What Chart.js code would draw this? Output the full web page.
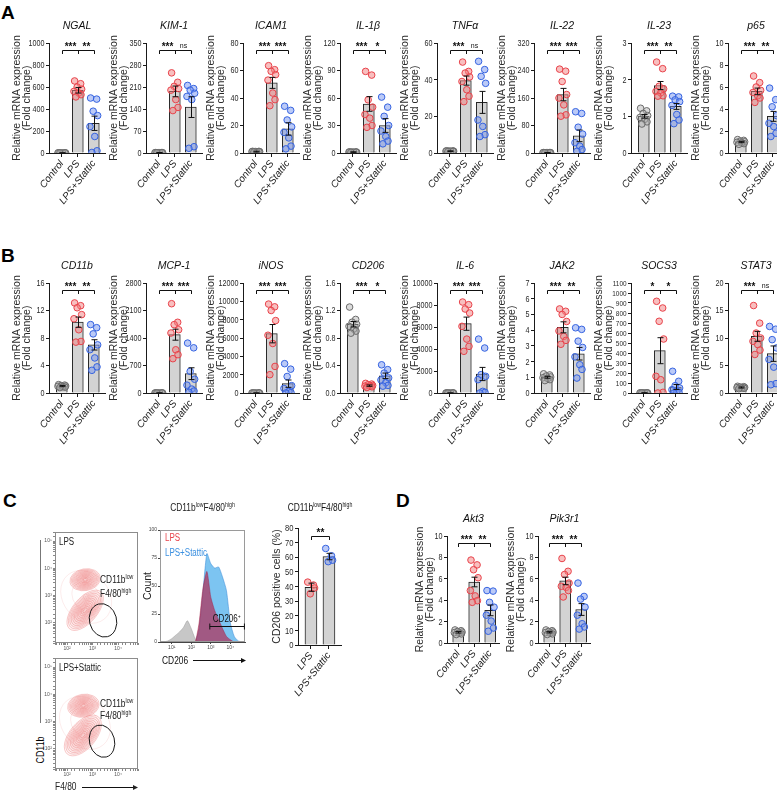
<!DOCTYPE html>
<html>
<head>
<meta charset="utf-8">
<script src="https://cdn.jsdelivr.net/npm/chart.js@4.4.1/dist/chart.umd.min.js"></script>
<style>
body { margin: 0; background: #fff; width: 777px; height: 792px; position: relative; overflow: hidden; font-family: 'Liberation Sans', Arial, sans-serif; }
canvas { position: absolute; }
.lbl { position: absolute; font-weight: bold; font-size: 19px; line-height: 1; }
</style>
</head>
<body>
<div class="lbl" style="left:1px;top:3px">A</div>
<div class="lbl" style="left:1px;top:246px">B</div>
<div class="lbl" style="left:3px;top:491px">C</div>
<div class="lbl" style="left:396px;top:491px">D</div>
<div style="position:absolute;left:40px;top:540px;width:1px;height:183px;background:#777"></div>
<div style="position:absolute;left:20px;top:744px;width:40px;text-align:center;font:10.5px 'Liberation Sans',Arial;transform:rotate(-90deg) scaleX(0.85)">CD11b</div>
<script>
// groups + dot spread
const groups = ['Control', 'LPS', 'LPS+Stattic'];
const jit8 = [-0.2, 0.18, -0.04, 0.24, -0.24, 0.06, 0.2, -0.12];
const jit4 = [-0.18, 0.14, -0.04, 0.2];
const ctrlPts = [1.22, 1.15, 1.08, 1.02, 0.97, 0.92, 0.85, 0.79];

// panel A
const genesA = ['NGAL', 'KIM-1', 'ICAM1', 'IL-1β', 'TNFα', 'IL-22', 'IL-23', 'p65'];
const maxA = [1000, 350, 80, 120, 60, 320, 3, 10];
const stepA = [200, 70, 20, 30, 20, 80, 1, 2];
const meanA = [[1, 570, 270], [1, 196, 146], [1, 51, 17.5], [1, 53.5, 30], [1, 39.5, 27.6], [1, 170, 50], [1, 1.84, 1.27], [1, 5.6, 3.33]];
const semA = [[0.5, 25, 65], [0.5, 17, 33], [0.3, 4, 4.5], [0.3, 8, 7.5], [0.2, 2.5, 6], [0.5, 18, 17], [0.05, 0.11, 0.08], [0.06, 0.3, 0.45]];
const lpsA = [
  [655, 630, 600, 580, 560, 545, 530, 510],
  [255, 225, 212, 205, 200, 170, 145, 135],
  [63.5, 60.6, 59.4, 57, 53, 43.6, 38.8, 34.4],
  [89, 85, 58, 50, 42, 38, 30, 28],
  [49.6, 44.5, 43.6, 41.5, 39, 34.5, 31, 28],
  [244, 238, 208, 170, 160, 140, 111, 107],
  [2.48, 2.3, 1.82, 1.75, 1.68, 1.64, 1.56, 1.55],
  [7.0, 6.4, 6.0, 5.7, 5.5, 5.2, 5.0, 4.6]
];
const staA = [
  [500, 490, 380, 340, 240, 150, 20, 5],
  [215, 205, 200, 190, 180, 170, 20, 15],
  [34, 31, 24, 19, 15, 11, 5, 3],
  [61, 50, 40, 30, 24, 18, 13, 10],
  [50, 45.5, 41.8, 38, 18, 14.5, 10, 9],
  [120, 115, 75, 55, 30, 20, 10, 5],
  [1.55, 1.53, 1.45, 1.4, 1.3, 1.05, 0.9, 0.8],
  [5.9, 4.85, 4.2, 3.4, 2.7, 2.4, 1.8, 1.5]
];
const sigA = [['***', '**'], ['***', 'ns'], ['***', '***'], ['***', '*'], ['***', 'ns'], ['***', '***'], ['***', '**'], ['***', '**']];

// panel B
const genesB = ['CD11b', 'MCP-1', 'iNOS', 'CD206', 'IL-6', 'JAK2', 'SOCS3', 'STAT3'];
const maxB = [16, 2800, 12000, 1.6, 10000, 7, 1100, 20];
const stepB = [4, 700, 2000, 0.4, 2000, 1, 100, 5];
const decB = [0, 0, 0, 1, 0, 0, 0, 0];
const meanB = [[1, 10.3, 7.0], [1, 1484, 492], [1, 6470, 1018], [1.0, 0.107, 0.25], [1, 6300, 1727], [1.0, 4.18, 2.5], [1, 423, 60], [1, 10.3, 7.15]];
const semB = [[0.08, 0.75, 0.75], [1, 140, 150], [1, 1000, 400], [0.04, 0.01, 0.04], [1, 600, 600], [0.06, 0.35, 0.4], [1, 130, 25], [0.1, 0.9, 1.4]];
const cd206Ctrl = [1.25, 1.07, 1.03, 1.0, 0.97, 0.93, 0.9, 0.87];
const lpsB = [
  [13.1, 12.7, 12.4, 11.4, 10.8, 9.2, 7.5, 7.4],
  [2273, 1800, 1740, 1611, 1527, 1100, 975, 874],
  [9700, 9400, 9000, 7900, 6300, 5400, 2900, 2000],
  [0.14, 0.13, 0.12, 0.11, 0.1, 0.1, 0.09, 0.08],
  [8270, 8030, 7636, 7270, 6060, 4900, 4240, 3790],
  [5.35, 5.2, 5.0, 4.55, 3.95, 3.6, 3.35, 3.1],
  [917, 850, 717, 540, 167, 133, 7, 0],
  [15.9, 12.7, 10.9, 10, 9.4, 8.8, 7.8, 7.0]
];
const staB = [
  [9.95, 9.5, 8.6, 7.0, 6.3, 5.1, 3.8, 3.3],
  [1270, 1150, 550, 350, 200, 100, 50, 20],
  [3200, 2600, 1800, 800, 500, 150, 50, 0],
  [0.41, 0.34, 0.29, 0.22, 0.19, 0.15, 0.11, 0.1],
  [4900, 4090, 1670, 1515, 1212, 150, 60, 0],
  [4.15, 4.05, 3.3, 2.9, 2.3, 1.8, 1.5, 0.95],
  [217, 117, 73, 50, 33, 17, 7, 0],
  [12.1, 11.6, 9.7, 8.2, 6.1, 4.7, 1.7, 1.5]
];
const sigB = [['***', '**'], ['***', '***'], ['***', '***'], ['***', '*'], ['***', '***'], ['***', '**'], ['*', '*'], ['***', 'ns']];

// panel D
const genesD = ['Akt3', 'Pik3r1'];
const meanD = [[1, 5.7, 3.05], [1, 5.8, 3.13]];
const semD = [[0.07, 0.45, 0.5], [0.06, 0.35, 0.55]];
const lpsD = [[7.75, 7.3, 6.85, 6.1, 4.9, 4.4, 3.95, 3.8], [7.9, 6.7, 6.4, 5.6, 5.3, 5.2, 4.9, 4.3]];
const staD = [[4.9, 4.85, 3.8, 3.35, 2.6, 2.05, 1.4, 1.1], [5.6, 4.35, 4.1, 3.35, 2.6, 1.8, 1.5, 1.3]];
const sigD = [['***', '**'], ['***', '**']];

// panel C: CD206 positive cells
const cd206Groups = ['LPS', 'LPS+Stattic'];
const cd206Mean = [39.5, 60.5];
const cd206Sem = [2.8, 2.2];
const cd206Lps = [43, 41, 35, 39];
const cd206Sta = [66, 61, 57, 58];

// panel C: histogram (log10 CD206 vs % of max)
const histX = [0.6, 0.8, 1.0, 1.2, 1.4, 1.6, 1.8, 2.0, 2.2, 2.4, 2.6, 2.8, 3.0, 3.2, 3.4, 3.6, 3.8, 4.0, 4.2, 4.4, 4.6];
const histGrey = [0, 1, 3, 6, 9, 13, 19, 12, 3, 0, 0, 0, 0, 0, 0, 0, 0, 0, 0, 0, 0];
const histRed = [0, 0, 0, 0, 0, 0, 0, 0, 0, 17, 48, 63, 40, 28, 20, 12, 5, 2, 0, 0, 0];
const histBlue = [0, 0, 0, 0, 0, 0, 0, 0, 0, 12, 45, 79, 70, 66, 67, 58, 46, 17, 5, 1, 0];
const histTicks = [0, 25, 50, 75, 100];
const gateRange = [2.95, 4.72];
const gateLevel = 14;

// panel C: contour populations, log10 [F4/80, CD11b, spreadX, spreadY, tilt]
const lpsPops = [[2.75, 2.95, 0.9, 1.05, 40], [2.71, 3.58, 0.6, 0.4, 10], [2.71, 2.46, 0.95, 0.45, 50]];
const staPops = [[2.7, 2.95, 0.9, 1.05, 40], [2.64, 3.58, 0.62, 0.42, 10], [2.62, 2.49, 0.95, 0.48, 50]];
const lpsGate = [3.41, 2.09, 0.53, 0.62, 15];
const staGate = [3.37, 2.28, 0.49, 0.6, 15];

const FONT = "'Liberation Sans', Arial, sans-serif";
const NARROW = 0.8;
Chart.defaults.font.family = FONT;
Chart.defaults.color = '#222';

const dotLine = {c: '#6b6b6b', l: '#e8434b', s: '#3563e0'};
const dotFill = {c: 'rgba(175,175,175,0.45)', l: 'rgba(242,128,128,0.5)', s: 'rgba(120,150,240,0.5)'};
const sup = ['⁰', '¹', '²', '³', '⁴', '⁵'];
const yTitle = ['Relative mRNA expression', '(Fold change)'];

function mk(left, top, w, h) {
  const cv = document.createElement('canvas');
  cv.width = w; cv.height = h;
  cv.style.left = left + 'px'; cv.style.top = top + 'px';
  document.body.appendChild(cv);
  return cv;
}

// condensed text with optional superscript parts
function supText(ctx, parts, x, y, size, align) {
  const fnt = s => (s ? size * 0.62 : size) + 'px ' + FONT;
  let total = 0;
  parts.forEach(([t, s]) => { ctx.font = fnt(s); total += ctx.measureText(t).width; });
  const x0 = align === 'center' ? x - total * NARROW / 2 : align === 'right' ? x - total * NARROW : x;
  ctx.save();
  ctx.translate(x0, y);
  ctx.scale(NARROW, 1);
  ctx.textAlign = 'left';
  let cx = 0;
  parts.forEach(([t, s]) => {
    ctx.font = fnt(s);
    ctx.fillText(t, cx, s ? -size * 0.38 : 0);
    cx += ctx.measureText(t).width;
  });
  ctx.restore();
}

function decor(o) {
  return {
    id: 'decor',
    afterDatasetsDraw(chart) {
      const {ctx, chartArea: a, scales: {x, y}} = chart;
      ctx.save();
      // y tick labels, condensed
      ctx.fillStyle = '#2a2a2a';
      ctx.textBaseline = 'middle';
      y.ticks.forEach(t => {
        supText(ctx, [[t.value.toFixed(o.dec), 0]], a.left - 4.5, y.getPixelForValue(t.value) + 0.5, o.tickSize, 'right');
      });
      ctx.textBaseline = 'alphabetic';
      ctx.strokeStyle = '#111';
      ctx.lineWidth = 1;
      // error bars
      o.mean.forEach((m, i) => {
        const px = Math.round(x.getPixelForValue(i)) + 0.5;
        const y1 = y.getPixelForValue(m + o.sem[i]);
        const y0 = y.getPixelForValue(Math.max(m - o.sem[i], 0));
        ctx.beginPath();
        ctx.moveTo(px, y0); ctx.lineTo(px, y1);
        ctx.moveTo(px - 3, y1); ctx.lineTo(px + 3, y1);
        ctx.moveTo(px - 3, y0); ctx.lineTo(px + 3, y0);
        ctx.stroke();
      });
      // significance bracket
      const by = Math.round(a.top + o.brY) + 0.5;
      const xs = o.mean.map((m, i) => Math.round(x.getPixelForValue(i)) + 0.5);
      ctx.beginPath();
      ctx.moveTo(xs[0], by); ctx.lineTo(xs[xs.length - 1], by);
      xs.forEach(px => { ctx.moveTo(px, by); ctx.lineTo(px, by + 3.5); });
      ctx.stroke();
      ctx.fillStyle = '#111';
      ctx.textAlign = 'center';
      o.sig.forEach((s, i) => {
        ctx.font = s === 'ns' ? '7px ' + FONT : 'bold 10px ' + FONT;
        ctx.fillText(s, (xs[i] + xs[i + 1]) / 2, s === 'ns' ? by - 3 : by - 1);
      });
      // title
      const cx = (a.left + a.right) / 2;
      if (o.titleParts) {
        supText(ctx, o.titleParts, cx, a.top - 17, 10.5, 'center');
      } else {
        ctx.font = 'italic 10.5px ' + FONT;
        ctx.textAlign = 'center';
        ctx.fillText(o.title, cx, a.top - 14);
      }
      ctx.restore();
    }
  };
}

function barChart(left, top, o) {
  const plotW = (o.xMax - o.xMin) * o.unit;
  const w = Math.ceil(o.padL + o.yW + plotW + 5 + (o.extraW || 0));
  const padR = w - o.padL - o.yW - plotW;
  const cv = mk(left, top, w, 43 + o.plotH + o.xH);
  const ds = [{
    type: 'bar', data: o.mean.map((v, i) => ({x: i, y: v})),
    backgroundColor: '#d3d3d3', borderColor: '#262626', borderWidth: 1,
    barThickness: o.barW, order: 3
  }];
  o.pts.forEach((arr, g) => ds.push({
    type: 'scatter', data: arr.map((v, j) => ({x: g + o.jit[j], y: v})),
    pointRadius: 3.3, pointBackgroundColor: dotFill[o.col[g]], pointBorderColor: dotLine[o.col[g]],
    pointBorderWidth: 1, order: 1
  }));
  new Chart(cv, {
    type: 'bar',
    data: {datasets: ds},
    options: {
      responsive: false, animation: false, events: [],
      layout: {padding: {left: o.padL, top: 43, right: padR, bottom: 0}},
      plugins: {legend: {display: false}, tooltip: {enabled: false}},
      scales: {
        x: {
          type: 'linear', min: o.xMin, max: o.xMax, offset: false,
          afterBuildTicks: s => { s.ticks = o.labels.map((l, i) => ({value: i})); },
          afterFit: s => { s.height = o.xH; },
          ticks: {autoSkip: false, minRotation: 52, maxRotation: 52, padding: 1, color: '#1a1a1a',
                  font: {size: 10, style: 'italic'}, callback: v => o.labels[v]},
          grid: {offset: false, drawOnChartArea: false, tickLength: 4, color: '#1a1a1a'},
          border: {color: '#1a1a1a', width: 1}
        },
        y: {
          min: 0, max: o.max,
          afterFit: s => { s.width = o.yW; },
          ticks: {stepSize: o.step, autoSkip: false, display: false},
          grid: {drawOnChartArea: false, tickLength: 3, color: '#1a1a1a'},
          border: {color: '#1a1a1a', width: 1},
          title: {display: true, text: o.yTitle, color: '#2a2a2a', padding: {top: o.tPad, bottom: 0},
                  font: {size: 10.5, lineHeight: 0.95}}
        }
      }
    },
    plugins: [decor(o)]
  });
}

const geneBase = {labels: groups, col: ['c', 'l', 's'], jit: jit8, xMin: -0.8, xMax: 2.7, unit: 16,
  padL: 8, yW: 41, plotH: 110, xH: 55, barW: 11, yTitle: yTitle, tPad: 4, brY: 7, dec: 0, tickSize: 9};

genesA.forEach((g, i) => barChart(97 * i, 0, Object.assign({}, geneBase, {
  title: g, max: maxA[i], step: stepA[i], mean: meanA[i], sem: semA[i],
  pts: [ctrlPts, lpsA[i], staA[i]], sig: sigA[i]
})));

genesB.forEach((g, i) => barChart(97 * i, 240, Object.assign({}, geneBase, {
  title: g, max: maxB[i], step: stepB[i], dec: decB[i], mean: meanB[i], sem: semB[i],
  tickSize: g === 'SOCS3' ? 8 : 9,
  pts: [g === 'CD206' ? cd206Ctrl : ctrlPts, lpsB[i], staB[i]], sig: sigB[i]
})));

genesD.forEach((g, i) => barChart([398, 489][i], 493, Object.assign({}, geneBase, {
  title: g, max: 10, step: 2, mean: meanD[i], sem: semD[i], padL: 12, yW: 37, tPad: 5,
  xMin: -0.7, xMax: 2.6, plotH: 107,
  pts: [ctrlPts, lpsD[i], staD[i]], sig: sigD[i]
})));

barChart(253, 485, {
  labels: cd206Groups, col: ['l', 's'], jit: jit4, xMin: -0.72, xMax: 1.72, unit: 18, extraW: 14,
  padL: 16, yW: 29, plotH: 117, xH: 52, barW: 12, yTitle: 'CD206 positive cells (%)', tPad: 3, brY: 8,
  max: 80, step: 10, dec: 0, tickSize: 9.5, mean: cd206Mean, sem: cd206Sem, pts: [cd206Lps, cd206Sta], sig: ['**'],
  titleParts: [['CD11b', 0], ['low', 1], ['F4/80', 0], ['high', 1]]
});

// histogram
const hc = mk(138, 500, 112, 167);
const histSet = (vals, fill, line, order) => ({
  data: histX.map((v, i) => ({x: v, y: vals[i]})), fill: 'origin', backgroundColor: fill,
  borderColor: line, borderWidth: 0.6, pointRadius: 0, tension: 0.2, order: order
});
new Chart(hc, {
  type: 'line',
  data: {datasets: [
    histSet(histRed, 'rgba(178,38,78,0.68)', 'rgba(160,30,70,0.8)', 1),
    histSet(histGrey, 'rgba(185,185,185,0.8)', 'rgba(150,150,150,0.8)', 2),
    histSet(histBlue, 'rgba(110,190,240,0.9)', 'rgba(60,140,215,0.9)', 3)
  ]},
  options: {
    responsive: false, animation: false, events: [],
    layout: {padding: {left: 4, top: 30, right: 5, bottom: 15}},
    plugins: {legend: {display: false}, tooltip: {enabled: false}},
    scales: {
      x: {
        type: 'linear', min: 0.4, max: 4.75,
        afterBuildTicks: s => { s.ticks = [1, 2, 3, 4].map(v => ({value: v})); },
        afterFit: s => { s.height = 10; },
        ticks: {autoSkip: false, maxRotation: 0, padding: 1, font: {size: 5}, color: '#444', callback: v => '10' + sup[v]},
        grid: {drawOnChartArea: false, tickLength: 2, color: '#444'},
        border: {color: '#444'}
      },
      y: {
        min: 0, max: 100,
        afterBuildTicks: s => { s.ticks = histTicks.map(v => ({value: v})); },
        afterFit: s => { s.width = 18; },
        ticks: {autoSkip: false, padding: 1, font: {size: 5}, color: '#444'},
        grid: {drawOnChartArea: false, tickLength: 2, color: '#444'},
        border: {color: '#444'},
        title: {display: true, text: 'Count', color: '#222', padding: {top: 0, bottom: 0}, font: {size: 10.5, lineHeight: 1.1}}
      }
    }
  },
  plugins: [{
    id: 'histDecor',
    afterDraw(chart) {
      const {ctx, chartArea: a, scales: {x, y}} = chart;
      ctx.save();
      ctx.strokeStyle = '#9a9a9a';
      ctx.lineWidth = 1;
      ctx.strokeRect(a.left + 0.5, a.top + 0.5, a.width - 1, a.height - 1);
      ctx.fillStyle = '#222';
      supText(ctx, [['CD11b', 0], ['low', 1], ['F4/80', 0], ['high', 1]], (a.left + a.right) / 2, a.top - 19, 10.5, 'center');
      ctx.fillStyle = '#e8434b';
      supText(ctx, [['LPS', 0]], a.left + 5, a.top + 11, 10, 'left');
      ctx.fillStyle = '#3a8fe0';
      supText(ctx, [['LPS+Stattic', 0]], a.left + 5, a.top + 26, 10, 'left');
      // CD206+ gate
      const g0 = x.getPixelForValue(gateRange[0]), g1 = x.getPixelForValue(gateRange[1]);
      const gy = Math.round(y.getPixelForValue(gateLevel)) + 0.5;
      ctx.strokeStyle = '#111';
      ctx.beginPath();
      ctx.moveTo(g0, gy); ctx.lineTo(g1, gy);
      ctx.moveTo(g0, gy - 3); ctx.lineTo(g0, gy + 3);
      ctx.moveTo(g1, gy - 3); ctx.lineTo(g1, gy + 3);
      ctx.stroke();
      ctx.fillStyle = '#111';
      supText(ctx, [['CD206', 0], ['+', 1]], g0 + 3, gy - 5, 10, 'left');
      // x axis label with arrow
      supText(ctx, [['CD206', 0]], 24, 164, 10.5, 'left');
      ctx.beginPath();
      ctx.moveTo(55, 160.5); ctx.lineTo(106, 160.5);
      ctx.stroke();
      ctx.beginPath();
      ctx.moveTo(108, 160.5); ctx.lineTo(103, 158); ctx.lineTo(103, 163); ctx.closePath();
      ctx.fill();
      ctx.restore();
    }
  }]
});

// contour plots
function logLabel(v) {
  const e = Math.log10(v);
  return Math.abs(e - Math.round(e)) < 1e-6 ? '10' + sup[Math.round(e)] : '';
}

function rings(ctx, sx, sy, p, n, fill) {
  const [cx, cy, rx, ry, tilt] = p;
  const px = sx.getPixelForValue(10 ** cx), py = sy.getPixelForValue(10 ** cy);
  const rpx = sx.getPixelForValue(10 ** (cx + rx)) - px;
  const rpy = py - sy.getPixelForValue(10 ** (cy + ry));
  for (let k = n; k >= 1; k--) {
    const f = n === 1 ? 1 : 0.12 + 0.88 * (k - 1) / (n - 1);
    ctx.beginPath();
    ctx.ellipse(px, py, rpx * f, rpy * f, -tilt * Math.PI / 180, 0, 2 * Math.PI);
    if (fill) { ctx.fillStyle = fill; ctx.fill(); }
    ctx.stroke();
  }
}

function flowChart(top, h, padB, pops, gate, name, labY, last) {
  const cv = mk(38, top, 104, h);
  new Chart(cv, {
    type: 'scatter',
    data: {datasets: [{data: pops.map(p => ({x: 10 ** p[0], y: 10 ** p[1]})), pointRadius: 0}]},
    options: {
      responsive: false, animation: false, events: [],
      layout: {padding: {left: 2, top: 3, right: 4, bottom: padB}},
      plugins: {legend: {display: false}, tooltip: {enabled: false}},
      scales: {
        x: {
          type: 'logarithmic', min: 10 ** 1.53, max: 10 ** 4.78,
          afterFit: s => { s.height = 10; },
          ticks: {autoSkip: false, maxRotation: 0, padding: 1, font: {size: 5}, color: '#555', callback: logLabel},
          grid: {drawOnChartArea: false, tickLength: 2, color: '#888'},
          border: {display: false}
        },
        y: {
          type: 'logarithmic', min: 10 ** 1.26, max: 10 ** 5.33,
          afterFit: s => { s.width = 15; },
          ticks: {autoSkip: false, padding: 1, font: {size: 5}, color: '#555', callback: logLabel},
          grid: {drawOnChartArea: false, tickLength: 2, color: '#888'},
          border: {display: false}
        }
      }
    },
    plugins: [{
      id: 'contour',
      beforeDatasetsDraw(chart) {
        const {ctx, chartArea: a, scales: {x, y}} = chart;
        ctx.save();
        ctx.beginPath();
        ctx.rect(a.left, a.top, a.width, a.height);
        ctx.clip();
        ctx.lineWidth = 0.5;
        pops.forEach((p, i) => {
          ctx.strokeStyle = i === 0 ? 'rgba(236,130,130,0.3)' : 'rgba(232,88,88,0.62)';
          rings(ctx, x, y, p, i === 0 ? 3 : 12, i === 0 ? null : 'rgba(248,190,190,0.1)');
        });
        ctx.strokeStyle = '#1a1a1a';
        ctx.lineWidth = 1;
        rings(ctx, x, y, gate, 1, null);
        ctx.restore();
      },
      afterDraw(chart) {
        const {ctx, chartArea: a} = chart;
        ctx.save();
        ctx.strokeStyle = '#8c8c8c';
        ctx.lineWidth = 1;
        ctx.strokeRect(a.left + 0.5, a.top + 0.5, a.width - 1, a.height - 1);
        ctx.fillStyle = '#222';
        supText(ctx, [[name, 0]], a.left + 4, a.top + 13, 10, 'left');
        supText(ctx, [['CD11b', 0], ['low', 1]], a.left + 45, a.top + labY[0], 10.5, 'left');
        supText(ctx, [['F4/80', 0], ['high', 1]], a.left + 45, a.top + labY[1], 10.5, 'left');
        if (last) {
          supText(ctx, [['F4/80', 0]], 17, 136, 10.5, 'left');
          ctx.strokeStyle = '#111';
          ctx.beginPath();
          ctx.moveTo(44, 133.5); ctx.lineTo(97, 133.5);
          ctx.stroke();
          ctx.beginPath();
          ctx.moveTo(100, 133.5); ctx.lineTo(95, 131); ctx.lineTo(95, 136); ctx.closePath();
          ctx.fill();
        }
        ctx.restore();
      }
    }]
  });
}

flowChart(528, 125, 0, lpsPops, lpsGate, 'LPS', [51, 65], false);
flowChart(654, 138, 13, staPops, staGate, 'LPS+Stattic', [49, 61], true);
</script>
</body>
</html>
